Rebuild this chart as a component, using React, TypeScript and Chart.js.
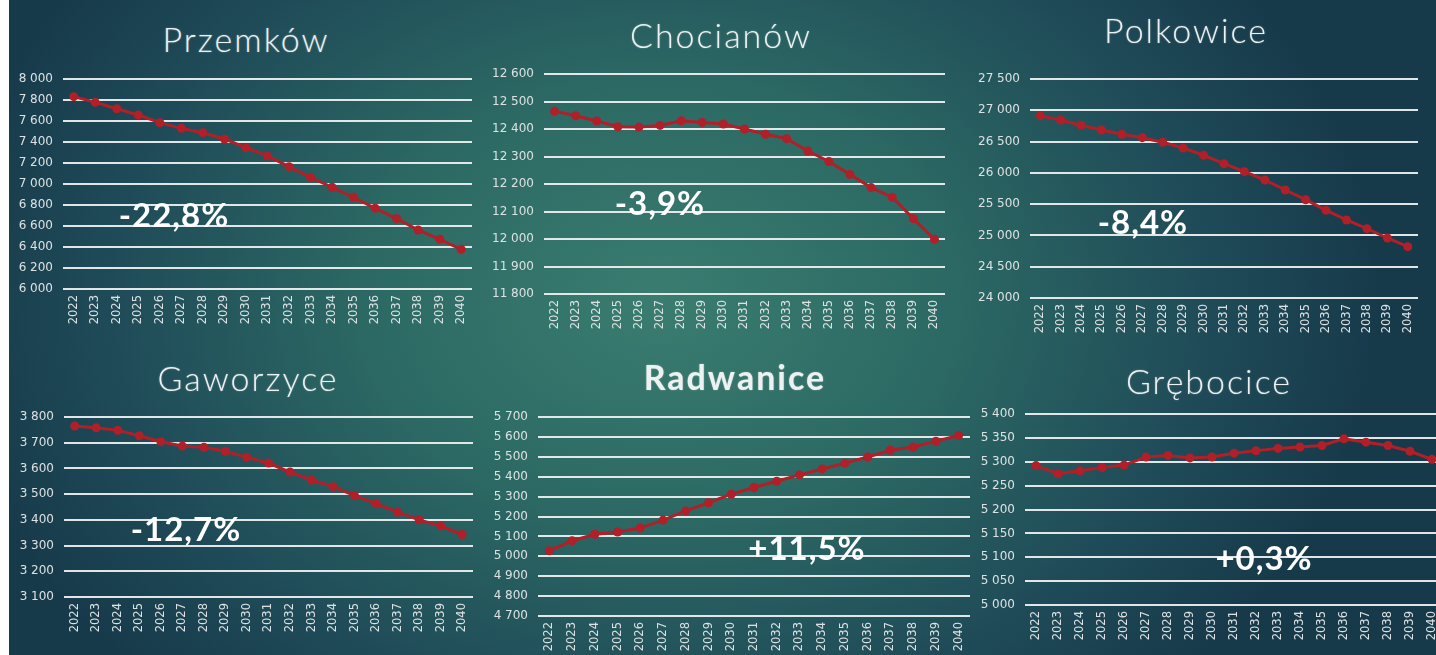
import React, { useEffect, useRef } from "react";
import { Chart, registerables } from "chart.js";

Chart.register(...registerables);

// ---------- DATA ----------
const years = [
  "2022", "2023", "2024", "2025", "2026", "2027", "2028", "2029", "2030", "2031",
  "2032", "2033", "2034", "2035", "2036", "2037", "2038", "2039", "2040",
];

const przemkowValues = [7832, 7778, 7717, 7657, 7584, 7530, 7489, 7429, 7346, 7267, 7165, 7064, 6969, 6873, 6769, 6670, 6562, 6473, 6378];
const chocianowValues = [12465, 12448, 12429, 12408, 12407, 12413, 12430, 12424, 12418, 12400, 12381, 12365, 12320, 12282, 12235, 12187, 12152, 12074, 11999];
const polkowiceValues = [26914, 26845, 26760, 26685, 26616, 26562, 26488, 26397, 26281, 26147, 26019, 25886, 25726, 25571, 25401, 25247, 25108, 24959, 24820];
const gaworzyceValues = [3765, 3758, 3748, 3727, 3704, 3687, 3682, 3667, 3643, 3621, 3586, 3555, 3529, 3494, 3463, 3430, 3400, 3376, 3343];
const radwaniceValues = [5028, 5078, 5111, 5122, 5142, 5182, 5228, 5269, 5312, 5346, 5377, 5409, 5439, 5468, 5499, 5533, 5549, 5578, 5607];
const grebociceValues = [5292, 5275, 5281, 5288, 5293, 5310, 5313, 5308, 5310, 5318, 5323, 5328, 5331, 5334, 5348, 5341, 5334, 5322, 5305];

const panelTitles = ["Przemków", "Chocianów", "Polkowice", "Gaworzyce", "Radwanice", "Grębocice"];
const panelChanges = ["-22,8%", "-3,9%", "-8,4%", "-12,7%", "+11,5%", "+0,3%"];
const axisMin = [6000, 11800, 24000, 3100, 4700, 5000];
const axisMax = [8000, 12600, 27500, 3800, 5700, 5400];
const axisStep = [200, 100, 500, 100, 100, 50];
const panelValues = [przemkowValues, chocianowValues, polkowiceValues, gaworzyceValues, radwaniceValues, grebociceValues];

// ---------- LAYOUT / STYLE ----------
const RED = "#b11f28";
const GRID = "rgba(236,238,238,0.95)";
const TICK = "#dde1e1";

type Area = { l: number; r: number; t: number; b: number };
const LAYOUT: { area: Area; title: { cx: number; base: number; bold?: boolean }; pct: { cx: number; base: number } }[] = [
  { area: { l: 63, r: 472, t: 79, b: 289 }, title: { cx: 246, base: 52 }, pct: { cx: 174, base: 227 } },
  { area: { l: 544, r: 945, t: 74, b: 294 }, title: { cx: 721, base: 48 }, pct: { cx: 660, base: 215 } },
  { area: { l: 1030, r: 1418, t: 79, b: 298 }, title: { cx: 1186, base: 43 }, pct: { cx: 1143, base: 234 } },
  { area: { l: 64, r: 473, t: 417, b: 597 }, title: { cx: 248, base: 391 }, pct: { cx: 186, base: 541 } },
  { area: { l: 538, r: 970, t: 417, b: 616 }, title: { cx: 735, base: 390, bold: true }, pct: { cx: 807, base: 560 } },
  { area: { l: 1025, r: 1443, t: 414, b: 605 }, title: { cx: 1209, base: 394 }, pct: { cx: 1264, base: 570 } },
];

const Y_W = 60;
const X_H = 50;
const PAD_T = 20;
const PAD_R = 14;

function fmt(v: number): string {
  return String(Math.round(v)).replace(/\B(?=(\d{3})+(?!\d))/g, " ");
}

function PanelChart({ idx }: { idx: number }) {
  const ref = useRef<HTMLCanvasElement | null>(null);
  const area = LAYOUT[idx].area;
  const left = area.l - Y_W;
  const top = area.t - PAD_T;
  const width = area.r - area.l + Y_W + PAD_R;
  const height = area.b - area.t + PAD_T + X_H;

  useEffect(() => {
    if (!ref.current) return;
    const chart = new Chart(ref.current, {
      type: "line",
      data: {
        labels: years,
        datasets: [
          {
            data: panelValues[idx],
            borderColor: RED,
            backgroundColor: RED,
            borderWidth: 3,
            pointRadius: 4.5,
            pointBackgroundColor: RED,
            pointBorderColor: RED,
            pointBorderWidth: 0,
            tension: 0,
          },
        ],
      },
      options: {
        animation: false,
        responsive: false,
        devicePixelRatio: 1,
        layout: { padding: { left: 0, top: PAD_T, right: PAD_R, bottom: 0 } },
        plugins: {
          legend: { display: false },
          tooltip: { enabled: false },
          title: { display: false },
        },
        scales: {
          x: {
            offset: true,
            grid: { display: false, drawTicks: false },
            border: { display: false },
            ticks: {
              color: TICK,
              font: { family: "DejaVu Sans", size: 11.5 },
              minRotation: 90,
              maxRotation: 90,
              autoSkip: false,
              padding: 6,
            },
            afterFit: (s: any) => {
              s.height = X_H;
            },
          },
          y: {
            min: axisMin[idx],
            max: axisMax[idx],
            grid: { color: GRID, lineWidth: 2, drawTicks: false },
            border: { display: false },
            ticks: {
              stepSize: axisStep[idx],
              color: TICK,
              font: { family: "DejaVu Sans", size: 12 },
              padding: 10,
              callback: (v: any) => fmt(Number(v)),
            },
            afterFit: (s: any) => {
              s.width = Y_W;
            },
          },
        },
      },
    } as any);
    return () => chart.destroy();
  }, [idx]);

  return (
    <canvas
      ref={ref}
      width={width}
      height={height}
      style={{ position: "absolute", left, top, width, height }}
    />
  );
}

const TITLE_SIZE = 34;
const PCT_SIZE = 33;

export default function App() {
  return (
    <div
      style={{
        position: "fixed",
        left: 0,
        top: 0,
        width: 1436,
        height: 655,
        overflow: "hidden",
        background: "#ffffff",
      }}
    >
      <div
        style={{
          position: "absolute",
          left: 9,
          top: 0,
          width: 1427,
          height: 655,
          background:
            "radial-gradient(ellipse 720px 540px at 650px 300px, #3a7d70 0%, #2c6964 40%, #1f4b58 76%, #173a4b 100%)",
        }}
      />
      {LAYOUT.map((_, i) => (
        <PanelChart key={i} idx={i} />
      ))}
      {LAYOUT.map((p, i) => (
        <div
          key={"t" + i}
          style={{
            position: "absolute",
            left: p.title.cx - 200,
            width: 400,
            top: p.title.base - TITLE_SIZE * 0.89,
            textAlign: "center",
            fontFamily: "Lato, 'DejaVu Sans', sans-serif",
            fontWeight: p.title.bold ? 700 : 300,
            fontSize: TITLE_SIZE,
            lineHeight: TITLE_SIZE + "px",
            letterSpacing: 2,
            color: "#eef1f1",
            textShadow: "0 0 2px rgba(255,255,255,0.35)",
            whiteSpace: "nowrap",
          }}
        >
          {panelTitles[i]}
        </div>
      ))}
      {LAYOUT.map((p, i) => (
        <div
          key={"p" + i}
          style={{
            position: "absolute",
            left: p.pct.cx - 150,
            width: 300,
            top: p.pct.base - PCT_SIZE * 0.89,
            textAlign: "center",
            fontFamily: "Lato, 'DejaVu Sans', sans-serif",
            fontWeight: 700,
            fontSize: PCT_SIZE,
            lineHeight: PCT_SIZE + "px",
            letterSpacing: 1,
            color: "#ffffff",
            whiteSpace: "nowrap",
          }}
        >
          {panelChanges[i]}
        </div>
      ))}
    </div>
  );
}
